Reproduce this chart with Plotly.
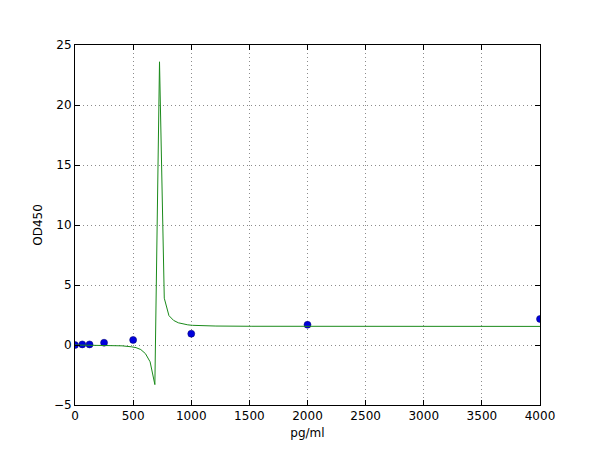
import plotly.graph_objects as go

# 측정 데이터 (standard points)
conc = [0, 62.5, 125, 250, 500, 1000, 2000, 4000]
od450 = [0.0, 0.05, 0.05, 0.19, 0.42, 0.94, 1.69, 2.17]

# fitted curve vertices
fit_x = [0, 242, 404, 485, 525, 566, 606, 646, 687, 727, 768, 808, 848,
         889, 929, 970, 1010, 1111, 1212, 1515, 2000, 3000, 4000]
fit_y = [0.0, -0.02, -0.07, -0.15, -0.22, -0.38, -0.72, -1.4, -3.3, 23.6,
         3.9, 2.45, 2.05, 1.85, 1.74, 1.68, 1.64, 1.6, 1.58, 1.56, 1.56,
         1.55, 1.55]

x_ticks = [0, 500, 1000, 1500, 2000, 2500, 3000, 3500, 4000]
y_ticks = [-5, 0, 5, 10, 15, 20, 25]

fig = go.Figure()
fig.add_trace(go.Scatter(x=conc, y=od450, mode='markers',
                         marker=dict(color='#0000dd', size=7,
                                     line=dict(color='#000066', width=0.5))))
fig.add_trace(go.Scatter(x=fit_x, y=fit_y, mode='lines',
                         line=dict(color='#1a8a1a', width=1)))

axis = dict(showline=True, linecolor='black', linewidth=1, mirror='ticks',
            ticks='inside', ticklen=5, tickcolor='black',
            showgrid=True, gridcolor='#8c8c8c', griddash='1px,3px', gridwidth=1,
            zeroline=False, tickfont=dict(size=12, color='black'))

fig.update_xaxes(axis, range=[0, 4000], tickvals=x_ticks,
                 ticktext=[str(v) for v in x_ticks],
                 title=dict(text='pg/ml', font=dict(size=12, color='black'),
                            standoff=6))
fig.update_yaxes(axis, range=[-5, 25], tickvals=y_ticks,
                 ticktext=[str(v).replace('-', '\u2212') for v in y_ticks],
                 title=dict(text='OD450', font=dict(size=12, color='black'),
                            standoff=8))

# 페이지 여백(8px) 만큼 당겨서 배치
fig.update_layout(width=600, height=450, showlegend=False,
                  plot_bgcolor='white', paper_bgcolor='white',
                  font=dict(family='DejaVu Sans', size=12, color='black'),
                  margin=dict(l=67, r=68, t=37, b=53))

fig.write_html("out.html")
